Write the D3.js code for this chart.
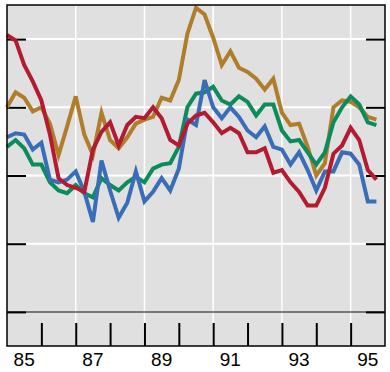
<!DOCTYPE html>
<html><head><meta charset="utf-8">
<script src="https://cdn.jsdelivr.net/npm/d3@7"></script>
<style>html,body{margin:0;padding:0;background:#fff;}svg{display:block;}</style>
</head><body>
<script>
// Quarterly observations, 1985Q1 .. 1995Q4
const startYear = 1985;
const red   = [20.3,19.9,18.1,16.9,15.5,13.0,9.8,9.3,9.1,8.8,11.9,13.2,13.9,12.2,13.7,14.3,14.2,15.0,14.2,12.6,12.2,13.8,14.4,14.6,13.9,13.1,13.5,13.1,11.7,11.7,12.0,10.2,10.4,9.5,8.8,7.8,7.8,9.1,11.6,12.2,13.5,12.6,10.4,9.7];
const gold  = [15.0,16.1,15.7,14.7,15.0,13.8,11.5,13.6,15.8,13.0,11.5,14.6,12.6,12.0,12.8,13.8,14.1,14.3,15.7,15.5,17.0,20.4,22.3,21.8,20.1,18.1,19.1,17.9,17.6,17.1,16.3,17.1,14.6,13.7,13.8,12.1,10.0,10.9,15.0,15.5,15.4,15.0,14.3,14.1];
const green = [12.1,12.6,12.0,10.8,10.8,9.5,8.9,8.7,9.3,8.7,8.4,9.8,9.3,8.9,9.5,9.9,9.5,10.5,10.8,10.9,12.1,15.0,16.0,16.1,16.5,15.5,15.2,15.8,15.4,14.4,15.2,15.2,13.3,12.5,12.6,11.7,10.8,11.7,13.9,15.0,15.8,15.2,13.9,13.7];
const blue  = [12.8,13.1,13.0,11.9,12.4,9.7,9.5,9.7,10.3,8.8,6.6,11.1,8.9,6.9,8.0,10.3,8.1,8.8,9.8,8.9,10.5,14.1,13.7,17.0,15.0,14.2,15.0,14.3,13.3,12.8,13.6,12.1,11.9,10.8,11.7,10.4,8.9,10.3,10.3,11.7,11.6,10.8,8.1,8.1];
const yTicks = [0,5,10,15,20];
const yearLabels = ["85","87","89","91","93","95"];
const labelYears = [1985,1987,1989,1991,1993,1995];
const gridYears = [1987,1989,1991,1993,1995];
const tickYears = [1986,1987,1988,1989,1990,1991,1992,1993,1994,1995];

const series = [
  {name:"gold", values: gold, color:"#b07d2b"},
  {name:"green", values: green, color:"#0b8c5a"},
  {name:"blue", values: blue, color:"#3a6db8"},
  {name:"red", values: red, color:"#b21b30"}
];

const W = 390, H = 372;
const L = 7, R = 385, T = 5, B = 346;
const svg = d3.select("body").append("svg").attr("width", W).attr("height", H);

const x = d3.scaleLinear().domain([1985, 1996]).range([L, R]);
const y = d3.scaleLinear().domain([-2.5, 22.5]).range([B, T]);

svg.append("rect").attr("x", L).attr("y", T).attr("width", R-L).attr("height", B-T).attr("fill", "#e0e0e0");

// horizontal gridlines
svg.append("g").selectAll("line").data(yTicks.filter(d => d !== 0)).join("line")
  .attr("x1", L).attr("x2", R).attr("y1", d => y(d)).attr("y2", d => y(d))
  .attr("stroke", "#fff").attr("stroke-width", 2);
// vertical gridlines
svg.append("g").selectAll("line").data(gridYears).join("line")
  .attr("x1", d => x(d)).attr("x2", d => x(d)).attr("y1", T).attr("y2", B)
  .attr("stroke", "#fff").attr("stroke-width", 1.5);
// zero line
svg.append("line").attr("x1", L).attr("x2", R).attr("y1", y(0)).attr("y2", y(0))
  .attr("stroke", "#555").attr("stroke-width", 1.5);

// left / right ticks
const yAxisL = d3.axisRight(y).tickValues(yTicks).tickSize(19).tickFormat("");
const gl = svg.append("g").attr("transform", `translate(${L},0)`).call(yAxisL);
gl.select(".domain").remove();
gl.selectAll("line").attr("stroke", "#000").attr("stroke-width", 2);
const yAxisR = d3.axisLeft(y).tickValues(yTicks).tickSize(19).tickFormat("");
const gr = svg.append("g").attr("transform", `translate(${R},0)`).call(yAxisR);
gr.select(".domain").remove();
gr.selectAll("line").attr("stroke", "#000").attr("stroke-width", 2);

// bottom ticks (inside, upward)
const xAxis = d3.axisTop(x).tickValues(tickYears).tickSize(23).tickFormat("");
const gx = svg.append("g").attr("transform", `translate(0,${B})`).call(xAxis);
gx.select(".domain").remove();
gx.selectAll("line").attr("stroke", "#000").attr("stroke-width", 2);

// lines
const line = d3.line().x((d,i) => x(startYear + i/4)).y(d => y(d));
svg.append("g").selectAll("path").data(series).join("path")
  .attr("d", d => line(d.values))
  .attr("fill", "none").attr("stroke", d => d.color).attr("stroke-width", 4)
  .attr("stroke-linejoin", "miter").attr("stroke-miterlimit", 4);

// border
svg.append("rect").attr("x", L).attr("y", T).attr("width", R-L).attr("height", B-T)
  .attr("fill", "none").attr("stroke", "#000").attr("stroke-width", 1.5);

// year labels
svg.append("g").selectAll("text").data(labelYears).join("text")
  .attr("x", d => x(d + 0.5)).attr("y", 366)
  .attr("text-anchor", "middle")
  .attr("font-family", "'Liberation Sans', Arial, sans-serif").attr("font-size", 19)
  .attr("fill", "#000")
  .text((d,i) => yearLabels[i]);
</script>
</body></html>
